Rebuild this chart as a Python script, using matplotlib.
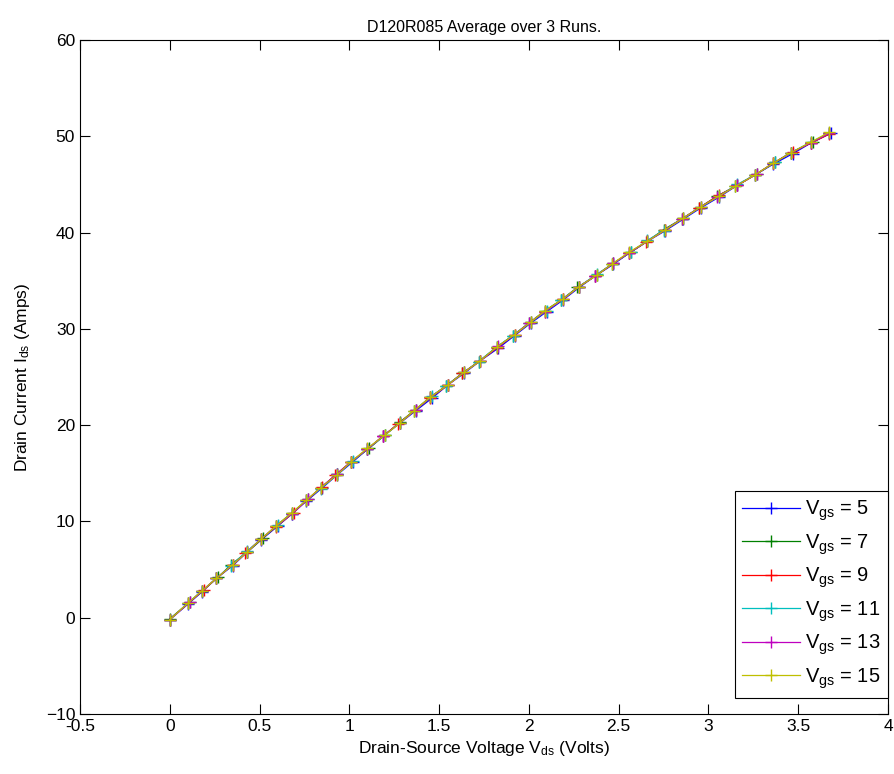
import matplotlib
matplotlib.use('Agg')
import matplotlib.pyplot as plt

plt.rcParams['font.family'] = ['Liberation Sans', 'DejaVu Sans']
plt.rcParams['mathtext.fontset'] = 'custom'
plt.rcParams['mathtext.rm'] = 'Liberation Sans'

# Vds (Volts) / Ids (Amps) per gate voltage
vgs_values = [5, 7, 9, 11, 13, 15]

vds_5 = [0.00, 0.10, 0.18, 0.26, 0.35, 0.43, 0.51, 0.60, 0.68, 0.76, 0.85, 0.93, 1.02, 1.10,
         1.19, 1.28, 1.37, 1.46, 1.55, 1.64, 1.73, 1.83, 1.92, 2.01, 2.10, 2.19, 2.28, 2.37,
         2.47, 2.56, 2.66, 2.76, 2.86, 2.96, 3.06, 3.16, 3.26, 3.36, 3.47, 3.57, 3.68]
ids_5 = [-0.2, 1.4, 2.7, 4.1, 5.4, 6.8, 8.1, 9.5, 10.8, 12.1, 13.5, 14.8, 16.2, 17.5,
         18.9, 20.2, 21.5, 22.8, 24.2, 25.4, 26.7, 28.0, 29.3, 30.6, 31.8, 33.0, 34.3, 35.5,
         36.7, 37.9, 39.1, 40.2, 41.4, 42.6, 43.7, 44.9, 46.0, 47.1, 48.2, 49.3, 50.3]

vds_7 = [0.00, 0.11, 0.18, 0.27, 0.34, 0.43, 0.52, 0.59, 0.68, 0.77, 0.84, 0.93, 1.01, 1.11,
         1.20, 1.28, 1.36, 1.45, 1.54, 1.63, 1.72, 1.82, 1.91, 2.00, 2.09, 2.18, 2.27, 2.38,
         2.46, 2.57, 2.66, 2.75, 2.85, 2.95, 3.05, 3.15, 3.27, 3.37, 3.46, 3.58, 3.67]
ids_7 = [-0.1, 1.6, 2.8, 4.2, 5.5, 6.8, 8.3, 9.5, 10.9, 12.3, 13.5, 14.9, 16.2, 17.6,
         19.0, 20.3, 21.5, 22.9, 24.1, 25.4, 26.6, 28.1, 29.3, 30.6, 31.9, 33.0, 34.3, 35.6,
         36.7, 38.0, 39.1, 40.3, 41.4, 42.6, 43.8, 44.8, 46.1, 47.3, 48.3, 49.4, 50.3]

vds_9 = [0.00, 0.10, 0.19, 0.26, 0.35, 0.42, 0.51, 0.59, 0.69, 0.76, 0.85, 0.92, 1.01, 1.10,
         1.19, 1.27, 1.37, 1.45, 1.55, 1.63, 1.73, 1.82, 1.92, 2.01, 2.09, 2.19, 2.28, 2.37,
         2.47, 2.56, 2.65, 2.76, 2.86, 2.95, 3.06, 3.16, 3.26, 3.36, 3.47, 3.57, 3.67]
ids_9 = [-0.2, 1.5, 2.9, 4.1, 5.5, 6.7, 8.2, 9.4, 10.9, 12.2, 13.6, 14.8, 16.2, 17.5,
         18.9, 20.1, 21.6, 22.8, 24.2, 25.4, 26.7, 28.0, 29.4, 30.7, 31.8, 33.1, 34.4, 35.5,
         36.8, 37.9, 39.0, 40.3, 41.5, 42.6, 43.9, 44.9, 46.0, 47.2, 48.4, 49.3, 50.2]

vds_11 = [0.00, 0.10, 0.18, 0.26, 0.34, 0.43, 0.51, 0.60, 0.68, 0.76, 0.84, 0.93, 1.02, 1.10,
          1.20, 1.28, 1.37, 1.46, 1.54, 1.64, 1.72, 1.82, 1.91, 2.01, 2.10, 2.18, 2.28, 2.38,
          2.47, 2.57, 2.66, 2.75, 2.86, 2.96, 3.06, 3.16, 3.26, 3.37, 3.46, 3.57, 3.67]
ids_11 = [-0.2, 1.5, 2.8, 4.1, 5.4, 6.9, 8.2, 9.6, 10.8, 12.2, 13.4, 14.9, 16.3, 17.5,
          19.0, 20.2, 21.6, 23.0, 24.1, 25.5, 26.6, 28.1, 29.3, 30.7, 31.9, 33.0, 34.4, 35.7,
          36.8, 38.0, 39.2, 40.2, 41.5, 42.7, 43.8, 45.0, 46.0, 47.3, 48.3, 49.4, 50.3]

vds_13 = [0.00, 0.11, 0.18, 0.26, 0.35, 0.43, 0.51, 0.59, 0.68, 0.77, 0.84, 0.93, 1.01, 1.10,
          1.19, 1.28, 1.37, 1.45, 1.55, 1.64, 1.73, 1.83, 1.92, 2.00, 2.09, 2.19, 2.28, 2.37,
          2.47, 2.56, 2.66, 2.76, 2.85, 2.96, 3.05, 3.16, 3.27, 3.36, 3.46, 3.57, 3.67]
ids_13 = [-0.2, 1.6, 2.8, 4.1, 5.5, 6.8, 8.2, 9.5, 10.8, 12.3, 13.5, 14.9, 16.2, 17.5,
          18.9, 20.2, 21.6, 22.9, 24.2, 25.5, 26.7, 28.2, 29.4, 30.6, 31.8, 33.1, 34.4, 35.5,
          36.8, 37.9, 39.1, 40.3, 41.4, 42.7, 43.7, 44.9, 46.1, 47.2, 48.3, 49.3, 50.3]

vds_15 = [0.00, 0.10, 0.18, 0.26, 0.35, 0.43, 0.51, 0.59, 0.68, 0.76, 0.84, 0.93, 1.01, 1.10,
          1.20, 1.28, 1.36, 1.45, 1.55, 1.64, 1.73, 1.82, 1.92, 2.01, 2.09, 2.19, 2.28, 2.38,
          2.46, 2.56, 2.66, 2.76, 2.86, 2.96, 3.06, 3.15, 3.26, 3.36, 3.46, 3.57, 3.67]
ids_15 = [-0.2, 1.5, 2.8, 4.1, 5.5, 6.8, 8.2, 9.5, 10.9, 12.2, 13.5, 14.8, 16.2, 17.6,
          19.0, 20.2, 21.5, 22.9, 24.2, 25.5, 26.7, 28.1, 29.4, 30.7, 31.9, 33.1, 34.4, 35.6,
          36.7, 38.0, 39.1, 40.3, 41.5, 42.7, 43.8, 44.8, 46.0, 47.2, 48.3, 49.4, 50.4]

all_vds = [vds_5, vds_7, vds_9, vds_11, vds_13, vds_15]
all_ids = [ids_5, ids_7, ids_9, ids_11, ids_13, ids_15]
colors = ['#0000ff', '#008000', '#ff0000', '#00bfbf', '#bf00bf', '#bfbf00']

fig = plt.figure(figsize=(8.95, 7.74), dpi=100)
ax = fig.add_axes([0.0894, 0.0775, 0.9028, 0.8708])

for vgs, x, y, c in zip(vgs_values, all_vds, all_ids, colors):
    ax.plot(x, y, marker='+', markersize=9, markeredgewidth=1.0, linewidth=0.9, color=c,
            label=r'$\mathregular{V_{gs}}$ = %d' % vgs)

ax.set_xlim(-0.5, 4)
ax.set_ylim(-10, 60)
ax.set_xticks([-0.5, 0, 0.5, 1, 1.5, 2, 2.5, 3, 3.5, 4])
ax.set_xticklabels(['-0.5', '0', '0.5', '1', '1.5', '2', '2.5', '3', '3.5', '4'])
ax.set_yticks(range(-10, 61, 10))
ax.tick_params(direction='in', top=True, right=True, length=7, labelsize=12.5)

ax.set_title('D120R085 Average over 3 Runs.', fontsize=11.5)
ax.set_xlabel(r'Drain-Source Voltage $\mathregular{V_{ds}}$ (Volts)', fontsize=12.5)
ax.set_ylabel(r'Drain Current $\mathregular{I_{ds}}$ (Amps)', fontsize=12.5, labelpad=10)

leg = ax.legend(loc='lower right', bbox_to_anchor=(1.0, 0.024), borderaxespad=0,
                fontsize=14.5, handlelength=2.9, handletextpad=0.25, labelspacing=0.45,
                borderpad=0.35, fancybox=False, framealpha=1, edgecolor='black')
leg.get_frame().set_linewidth(0.8)

fig.savefig('out.png', dpi=100)
